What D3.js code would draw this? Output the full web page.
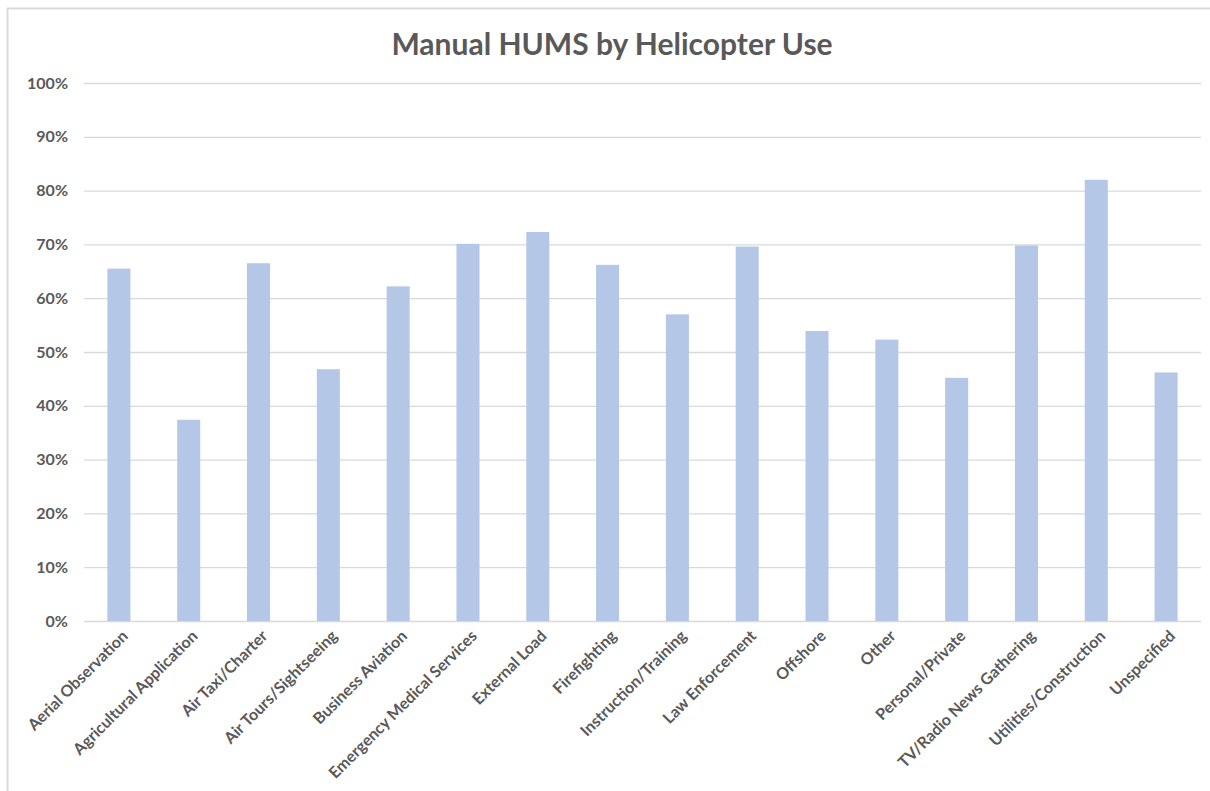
<!DOCTYPE html>
<html>
<head>
<meta charset="utf-8">
<script src="https://cdn.jsdelivr.net/npm/d3@7"></script>
<style>
  html, body { margin: 0; padding: 0; background: #fff; }
  svg { display: block; }
</style>
</head>
<body>
<svg id="chart" width="1210" height="791"></svg>
<script>
const categories = [
  "Aerial Observation", "Agricultural Application", "Air Taxi/Charter", "Air Tours/Sightseeing",
  "Business Aviation", "Emergency Medical Services", "External Load", "Firefighting",
  "Instruction/Training", "Law Enforcement", "Offshore", "Other", "Personal/Private",
  "TV/Radio News Gathering", "Utilities/Construction", "Unspecified"
];
const values = [0.655, 0.374, 0.665, 0.468, 0.622, 0.701, 0.723, 0.662, 0.570, 0.696, 0.539, 0.523, 0.452, 0.698, 0.820, 0.462];
const yTicks = [0, 0.1, 0.2, 0.3, 0.4, 0.5, 0.6, 0.7, 0.8, 0.9, 1.0];
const title = "Manual HUMS by Helicopter Use";

const svg = d3.select("#chart");
const textColor = "#595959";
const font = "Lato, 'Open Sans', sans-serif";

// frame
svg.append("line").attr("x1", 7).attr("x2", 1210).attr("y1", 8.5).attr("y2", 8.5)
  .attr("stroke", "#d9d9d9").attr("stroke-width", 2);
svg.append("line").attr("x1", 7.5).attr("x2", 7.5).attr("y1", 8).attr("y2", 791)
  .attr("stroke", "#d9d9d9").attr("stroke-width", 2);

const x = d3.scaleBand().domain(categories).range([84, 1201]).paddingInner(0.67).paddingOuter(0.335);
const y = d3.scaleLinear().domain([0, 1]).range([621, 83]);

// gridlines
const yAxis = d3.axisLeft(y).tickValues(yTicks).tickFormat(d3.format(".0%")).tickSize(-(1201 - 84)).tickPadding(16);
const gy = svg.append("g").attr("transform", "translate(84,0)").call(yAxis);
gy.select(".domain").remove();
gy.selectAll(".tick line").attr("stroke", "#d9d9d9").attr("stroke-width", 1.3);
gy.selectAll(".tick text").attr("fill", textColor).attr("font-family", font)
  .attr("font-size", 16).attr("font-weight", "bold");

// bars
svg.append("g").selectAll("rect").data(values).join("rect")
  .attr("x", (d, i) => x(categories[i]))
  .attr("width", x.bandwidth())
  .attr("y", d => y(d))
  .attr("height", d => y(0) - y(d))
  .attr("fill", "#b4c7e7");

// x axis labels
const xAxis = d3.axisBottom(x).tickSize(0).tickPadding(0);
const gx = svg.append("g").attr("transform", "translate(0,621)").call(xAxis);
gx.select(".domain").remove();
gx.selectAll(".tick text")
  .attr("fill", textColor).attr("font-family", font).attr("font-size", 16).attr("font-weight", "bold")
  .attr("text-anchor", "end")
  .attr("dy", 0)
  .attr("y", 0)
  .attr("transform", "translate(10,16) rotate(-45)");

// title
svg.append("text").attr("x", 612).attr("y", 55).attr("text-anchor", "middle")
  .attr("fill", textColor).attr("font-family", font).attr("font-size", 30).attr("font-weight", "bold")
  .text(title);
</script>
</body>
</html>
